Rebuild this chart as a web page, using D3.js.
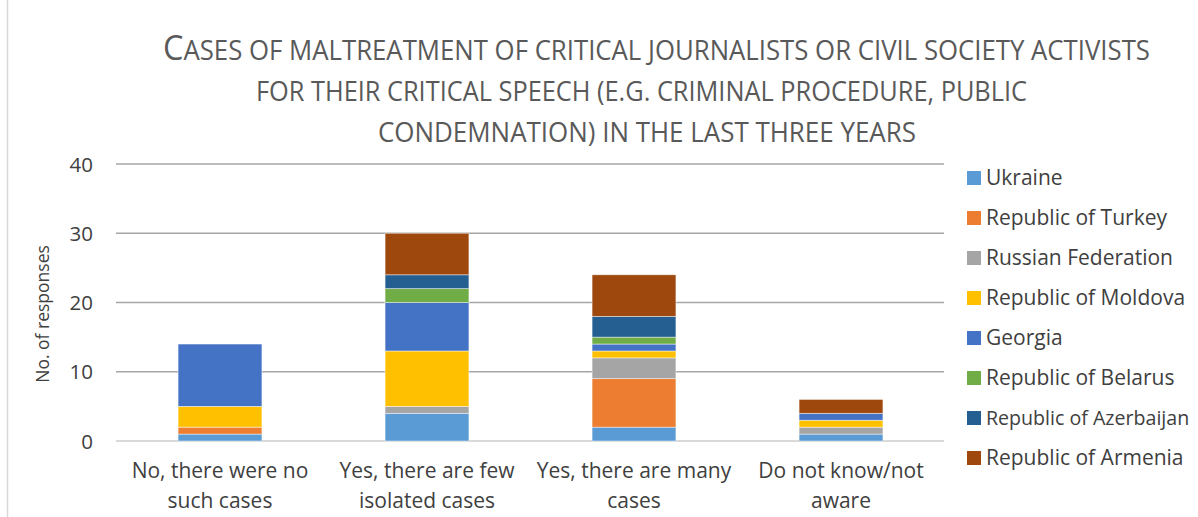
<!DOCTYPE html>
<html><head><meta charset="utf-8">
<script src="https://cdn.jsdelivr.net/npm/d3@7"></script>
<style>html,body{margin:0;padding:0;background:#fff;} svg{display:block;}</style>
</head><body>
<script>
const categories = [["No, there were no","such cases"],["Yes, there are few","isolated cases"],["Yes, there are many","cases"],["Do not know/not","aware"]];
const seriesNames = ["Ukraine","Republic of Turkey","Russian Federation","Republic of Moldova","Georgia","Republic of Belarus","Republic of Azerbaijan","Republic of Armenia"];
const ukraine    = [1,4,2,1];
const turkey     = [1,0,7,0];
const russia     = [0,1,3,1];
const moldova    = [3,8,1,1];
const georgia    = [9,7,1,1];
const belarus    = [0,2,1,0];
const azerbaijan = [0,2,3,0];
const armenia    = [0,6,6,2];
const yTicks = [0,10,20,30,40];
const colors = ["#5B9BD5","#ED7D31","#A5A5A5","#FFC000","#4472C4","#70AD47","#255E91","#9E480E"];
const titleLines = ["CASES OF MALTREATMENT OF CRITICAL JOURNALISTS OR CIVIL SOCIETY ACTIVISTS","FOR THEIR CRITICAL SPEECH (E.G. CRIMINAL PROCEDURE, PUBLIC","CONDEMNATION) IN THE LAST THREE YEARS"];

const values = [ukraine,turkey,russia,moldova,georgia,belarus,azerbaijan,armenia];
const W=1198,H=517;
const svg=d3.select("body").append("svg").attr("width",W).attr("height",H);
const font="'Open Sans', sans-serif";
const tfont="'Open Sans', sans-serif";

svg.append("line").attr("x1",7.5).attr("x2",7.5).attr("y1",0).attr("y2",H).attr("stroke","#d9d9d9").attr("stroke-width",1.5);

const x=d3.scaleBand().domain(d3.range(categories.length)).range([116.5,944.5]).padding(0);
const y=d3.scaleLinear().domain([0,40]).range([441,164]);

// gridlines
svg.append("g").selectAll("line").data(yTicks).join("line")
  .attr("x1",116).attr("x2",944).attr("y1",d=>y(d)).attr("y2",d=>y(d))
  .attr("stroke",d=>d===0?"#d9d9d9":"#a6a6a6").attr("stroke-width",d=>d===0?2:1.5);

// y tick labels
const yAxis=d3.axisLeft(y).tickValues(yTicks).tickSize(0).tickPadding(0);
const ya=svg.append("g").attr("transform","translate(93,0)").call(yAxis);
ya.select(".domain").remove();
ya.selectAll("text").attr("font-family",font).attr("font-size",20.5).attr("fill","#404040").attr("dy","0.35em");

svg.append("text").attr("transform","translate(49,314) rotate(-90)").attr("text-anchor","middle")
  .attr("font-family",font).attr("font-size",17.5).attr("fill","#404040").text("No. of responses");

// stacked bars
const table=categories.map((c,i)=>{const o={i}; seriesNames.forEach((s,k)=>o[s]=values[k][i]); return o;});
const stack=d3.stack().keys(seriesNames)(table);
const bw=x.bandwidth()*0.405;
svg.append("g").selectAll("g").data(stack).join("g").attr("fill",(d,k)=>colors[k])
  .selectAll("rect").data(d=>d.filter(p=>p[1]-p[0]>0)).join("rect")
  .attr("x",d=>x(d.data.i)+x.bandwidth()/2-bw/2).attr("width",bw)
  .attr("y",d=>y(d[1])).attr("height",d=>y(d[0])-y(d[1]))
  .attr("stroke","#ffffff").attr("stroke-opacity",0.6).attr("stroke-width",0.75);

// category labels
const cl=svg.append("g").selectAll("text").data(categories).join("text")
  .attr("text-anchor","middle").attr("font-family",font).attr("font-size",21).attr("fill","#404040");
cl.each(function(d,i){
  const t=d3.select(this);
  d.forEach((line,j)=>t.append("tspan").attr("x",x(i)+x.bandwidth()/2).attr("y",478+j*29.5).text(line));
});

// legend
const lg=svg.append("g").selectAll("g").data(seriesNames).join("g")
  .attr("transform",(d,k)=>`translate(967,${178+k*40})`);
lg.append("rect").attr("x",0).attr("y",-7).attr("width",14).attr("height",14).attr("fill",(d,k)=>colors[k]);
lg.append("text").attr("x",19).attr("y",0).attr("dy","0.35em").attr("font-family",font).attr("font-size",21).attr("fill","#404040").text(d=>d)
  .each(function(){
    const maxW=W-8-(967+19);
    const len=this.getComputedTextLength();
    if(len>maxW) d3.select(this).attr("font-size",Math.floor(21*maxW/len*10)/10);
  });

// title
const tSpecs=[{y:60,x1:163,x2:1150},{y:101,x1:256,x2:1027},{y:142,x1:378,x2:916}];
titleLines.forEach((line,j)=>{
  const s=tSpecs[j];
  const t=svg.append("text").attr("x",s.x1).attr("y",s.y).attr("font-family",tfont).attr("font-size",27).attr("fill","#595959")
    .attr("textLength",s.x2-s.x1).attr("lengthAdjust","spacingAndGlyphs");
  if(j===0){ t.append("tspan").attr("font-size",34).text(line[0]); t.append("tspan").text(line.slice(1)); }
  else t.text(line);
});
</script>
</body></html>
